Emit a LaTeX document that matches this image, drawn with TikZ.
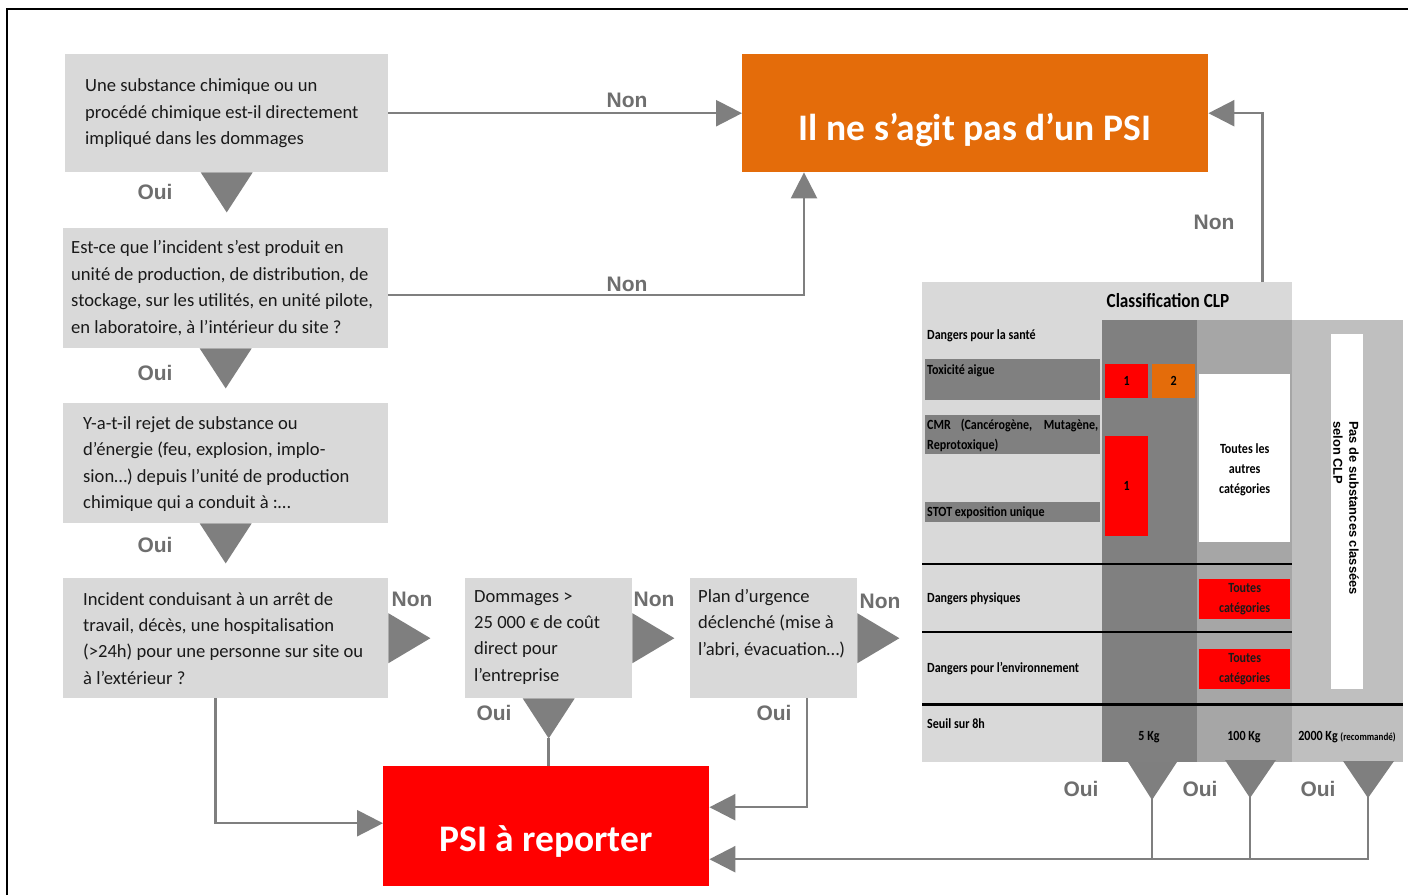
\documentclass[tikz,border=0pt]{standalone}
\usepackage{fontspec}
\setmainfont{Carlito}
\newfontfamily\arialf{Liberation Sans}
\newfontfamily\clpf[FakeStretch=0.86]{Carlito}
\usetikzlibrary{arrows.meta,calc}
\definecolor{boxgray}{HTML}{D9D9D9}
\definecolor{psiorange}{HTML}{E46C0A}
\definecolor{psired}{HTML}{FF0000}
\definecolor{linegray}{HTML}{7F7F7F}
\definecolor{lblgray}{HTML}{6E6E6E}
\definecolor{colA}{HTML}{808080}
\definecolor{colB}{HTML}{A6A6A6}
\definecolor{colC}{HTML}{BFBFBF}
\definecolor{txt}{HTML}{1A1A1A}
\begin{document}
\begin{tikzpicture}[x=1pt,y=-1pt,
  qbox/.style={fill=boxgray, draw=none, inner sep=0, anchor=north west},
  qtext/.style={inner sep=0, align=left, text=txt, font=\fontsize{18.6}{26.4}\selectfont},
  yn/.style={inner sep=0, text=lblgray, font=\arialf\bfseries\fontsize{21}{21}\selectfont},
  conn/.style={draw=linegray, line width=2.5pt},
  arr/.style={conn, -{Triangle[length=26pt,width=26pt]}},
  tri/.style={fill=linegray},
  endtext/.style={inner sep=0, text=white, font=\bfseries\fontsize{37.5}{37.5}\selectfont},
  cell/.style={draw=none, inner sep=0, anchor=north west},
  clp/.style={inner sep=0, text=black, font=\clpf\bfseries\fontsize{14}{20}\selectfont},
  num/.style={inner sep=0, text=black, font=\clpf\bfseries\fontsize{14}{14}\selectfont},
]
\useasboundingbox (0,0) rectangle (1408,895);
% frame
\draw[line width=2.5pt] (7,895) -- (7,9) -- (1408,9);

% question boxes
\node[qbox, minimum width=323, minimum height=118] (b1) at (65,54) {};
\node[qtext, anchor=west] (b1t) at ($(b1.west)+(20,0)$) {Une substance chimique ou un\\procédé chimique est-il directement\\impliqué dans les dommages};

\node[qbox, minimum width=325, minimum height=120] (b2) at (63,228) {};
\node[qtext, anchor=west] (b2t) at ($(b2.west)+(8,0)$) {Est-ce que l’incident s’est produit en\\unité de production, de distribution, de\\stockage, sur les utilités, en unité pilote,\\en laboratoire, à l’intérieur du site ?};

\node[qbox, minimum width=325, minimum height=120] (b3) at (63,403) {};
\node[qtext, anchor=west] (b3t) at ($(b3.west)+(20,1)$) {Y-a-t-il rejet de substance ou\\d’énergie (feu, explosion, implo-\\sion…) depuis l’unité de production\\chimique qui a conduit à :…};

\node[qbox, minimum width=325, minimum height=120] (b4) at (63,578) {};
\node[qtext, anchor=west] (b4t) at ($(b4.west)+(20,0)$) {Incident conduisant à un arrêt de\\travail, décès, une hospitalisation\\(>24h) pour une personne sur site ou\\à l’extérieur ?};

\node[qbox, minimum width=167, minimum height=120] (b5) at (465,578) {};
\node[qtext, anchor=west] (b5t) at ($(b5.west)+(9,-1)$) {Dommages >\\25 000 € de coût\\direct pour\\l’entreprise};

\node[qbox, minimum width=167, minimum height=120] (b6) at (690,578) {};
\node[qtext, anchor=north west] (b6t) at ($(b6.north west)+(8,11)$) {Plan d’urgence\\déclenché (mise à\\l’abri, évacuation…)};

% end boxes
\node[qbox, fill=psiorange, minimum width=466, minimum height=118] (npsi) at (742,54) {};
\node[endtext, anchor=base] (npsit) at (975,140) {Il ne s’agit pas d’un PSI};
\node[qbox, fill=psired, minimum width=326, minimum height=120] (psi) at (383,766) {};
\node[endtext, anchor=base] (psit) at (546,851) {PSI à reporter};

% Oui / Non triangles
\foreach \b in {b1,b2,b3,b5}{
  \fill[tri] ($(\b.south)+(-26,0)$) -- ($(\b.south)+(26,0)$) -- ($(\b.south)+(0,40)$) -- cycle;
}
\foreach \b in {b4,b5,b6}{
  \fill[tri] ($(\b.east)+(0,-25)$) -- ($(\b.east)+(0,25)$) -- ($(\b.east)+(42,0)$) -- cycle;
}
\coordinate (t5) at ($(b5.south)+(0,40)$);

% labels
\node[yn] (o1) at (155,192) {Oui};
\node[yn] (o2) at (155,373) {Oui};
\node[yn] (o3) at (155,545) {Oui};
\node[yn] (n4) at (412,599) {Non};
\node[yn] (n5) at (654,599) {Non};
\node[yn] (n6) at (880,601) {Non};
\node[yn] (o5) at (494,713) {Oui};
\node[yn] (o6) at (774,713) {Oui};
\node[yn] (n1) at (627,100) {Non};
\node[yn] (n2) at (627,284) {Non};
\node[yn] (nc) at (1214,222) {Non};
\node[yn] (oc1) at (1081,789) {Oui};
\node[yn] (oc2) at (1200,789) {Oui};
\node[yn] (oc3) at (1318,789) {Oui};

% ===== CLP table =====
\node[cell, fill=boxgray, minimum width=180, minimum height=480] (clpbg) at (922,282) {};
\node[cell, fill=boxgray, minimum width=370, minimum height=38] (clphead) at (922,282) {};
\node[cell, fill=colA, minimum width=95, minimum height=442] (colA) at (1102,320) {};
\node[cell, fill=colB, minimum width=95, minimum height=442] (colB) at (1197,320) {};
\node[cell, fill=colC, minimum width=111, minimum height=442] (colC) at (1292,320) {};
% bands
\node[cell, fill=colA, minimum width=175, minimum height=41] (btox) at (925,359) {};
\node[cell, fill=colA, minimum width=175, minimum height=39] (bcmr) at (925,415) {};
\node[cell, fill=colA, minimum width=175, minimum height=20] (bstot) at (925,502) {};
% coloured cells
\node[cell, fill=psired, minimum width=43, minimum height=34] (r1) at (1105,364) {};
\node[cell, fill=psiorange, minimum width=43, minimum height=34] (r2) at (1152,364) {};
\node[cell, fill=psired, minimum width=43, minimum height=100] (r3) at (1105,436) {};
\node[cell, fill=white, minimum width=91, minimum height=168] (wall) at (1199,374) {};
\node[cell, fill=psired, minimum width=91, minimum height=40] (rphy) at (1199,579) {};
\node[cell, fill=psired, minimum width=91, minimum height=40] (renv) at (1199,649) {};
\node[cell, fill=white, minimum width=32, minimum height=355] (wnone) at (1331,334) {};
% rules
\draw[line width=2pt] (922,564) -- (1292,564);
\draw[line width=2pt] (922,632) -- (1292,632);
\draw[line width=3pt] (922,704) -- (1403,704);
% texts
\node[clp, font=\clpf\bfseries\fontsize{20}{20}\selectfont] (clpt) at (1168,301) {Classification CLP};
\node[clp, anchor=west] (ls) at (927,336) {Dangers pour la santé};
\node[clp, anchor=west] (lt) at (927,371) {Toxicité aigue};
\node[clp, anchor=west, align=left] (lc) at (927,435) {\makebox[171pt][s]{CMR (Cancérogène, Mutagène,}\\Reprotoxique)};
\node[clp, anchor=west] (lst) at (927,513) {STOT exposition unique};
\node[clp, anchor=west] (lp) at (927,599) {Dangers physiques};
\node[clp, anchor=west] (le) at (927,669) {Dangers pour l’environnement};
\node[clp, anchor=west] (l8) at (927,724) {Seuil sur 8h};
\node[num] (r1t) at (r1.center) {1};
\node[num] (r2t) at (r2.center) {2};
\node[num] (r3t) at (r3.center) {1};
\node[clp, align=center] (wallt) at ($(wall.center)+(0,12)$) {Toutes les\\autres\\catégories};
\node[clp, align=center, text=txt] (rphyt) at (rphy.center) {Toutes\\catégories};
\node[clp, align=center, text=txt] (renvt) at (renv.center) {Toutes\\catégories};
\node[clp] (kg5) at (1149,737) {5 Kg};
\node[clp] (kg100) at (1244,737) {100 Kg};
\node[clp] (kg2000) at (1347,737) {2000 Kg {\fontsize{10.5}{10.5}\selectfont(recommandé)}};
\node[rotate=-90, anchor=west, align=left, inner sep=0, text=black,
      font=\arialf\bfseries\fontsize{12.9}{16}\selectfont] (nonecl) at (1346,421) {Pas de substances classées\\selon CLP};

% table Oui triangles
\fill[tri] (1128,762) -- (1177,762) -- (1152,800) -- cycle;
\fill[tri] (1225,760) -- (1276,760) -- (1250,798) -- cycle;
\fill[tri] (1343,761) -- (1394,761) -- (1368,798) -- cycle;
\coordinate (k1) at (1152,799);
\coordinate (k2) at (1250,797);
\coordinate (k3) at (1368,797);

% ===== connectors =====
\draw[arr] (b1.east) -- (npsi.west);
\draw[arr] ($(b2.east)+(0,7)$) -| ($(npsi.south west)+(62,0)$);
\draw[arr] ($(clphead.north east)+(-30,0)$) |- (npsi.east);
\draw[arr] ($(b4.south)+(-10,0)$) |- ($(psi.west)+(0,-3)$);
\draw[conn] (t5) -- (t5 |- psi.north);
\draw[arr] ($(b6.south)+(33.5,0)$) |- ($(psi.east)+(0,-19)$);
\coordinate (bus) at ($(psi.east)+(0,33)$);
\draw[arr] (k3) |- (bus);
\draw[conn] (k1) -- (k1 |- bus);
\draw[conn] (k2) -- (k2 |- bus);
\end{tikzpicture}
\end{document}
